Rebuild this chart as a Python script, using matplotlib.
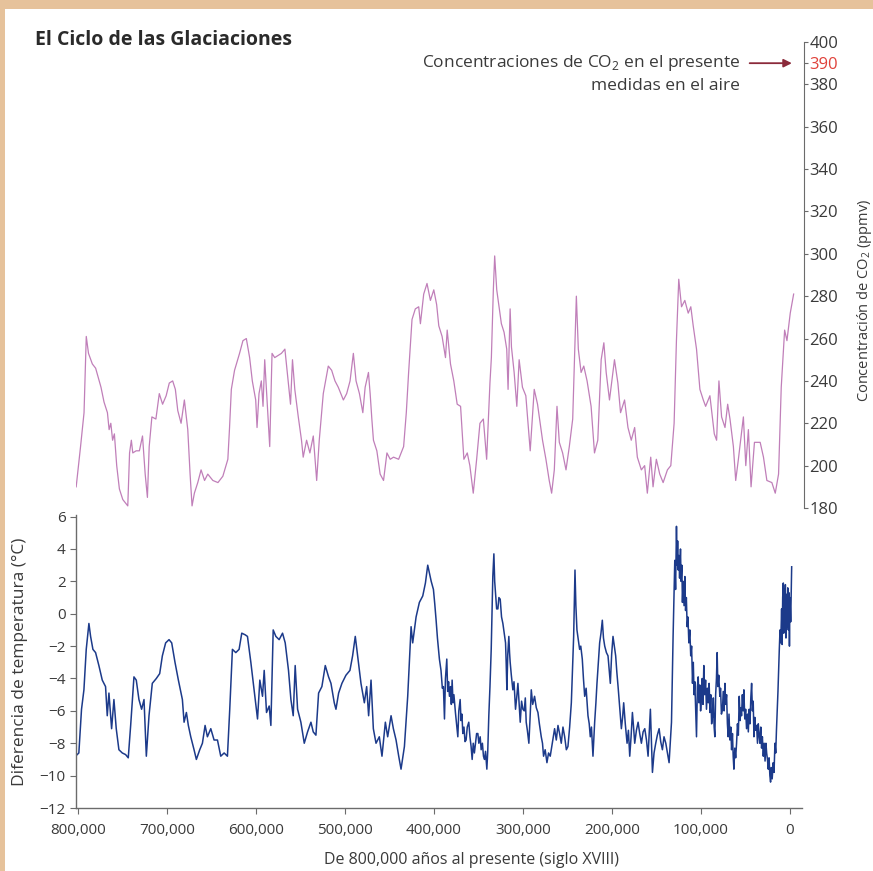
import numpy as np
import matplotlib.pyplot as plt
from matplotlib.patches import Rectangle
from matplotlib.ticker import FuncFormatter

plt.rcParams['font.family'] = ['Open Sans', 'DejaVu Sans']
plt.rcParams['mathtext.fontset'] = 'custom'
plt.rcParams['mathtext.rm'] = 'Open Sans'

# CO2 record: age (thousand years before present) and concentration (ppmv)
co2_age = [801.8, 796.9, 793, 790.5, 788, 783.7, 780, 774, 770.6, 766.8, 764.9, 763, 761, 759,
           756.4, 753.4, 749.6, 744, 742, 740, 738.4, 734.6, 731, 727.5, 724.5, 722, 720, 717,
           712.5, 708.7, 705, 701, 697.5, 693.7, 690.7, 688, 684.3, 680.6, 676.8, 674.2, 672,
           669.4, 665.6, 661.9, 658, 654.4, 648.7, 643, 637.5, 631.9, 630, 628, 624.4, 618.8,
           615, 611.2, 607.5, 604.5, 600.7, 599.2, 597, 594.4, 592.5, 590.6, 588, 585, 582.4,
           579.4, 575.6, 571.9, 568, 564.4, 561.7, 559.5, 556.9, 553, 549.4, 547.5, 543.7, 540,
           536.2, 532.4, 529.5, 525, 519.4, 515.6, 511.9, 508.2, 502.5, 498.8, 495, 491.3, 488.3,
           484.5, 480.7, 478.1, 474.4, 472.5, 470.6, 468.8, 465, 461.3, 457.5, 453.7, 450, 446.3,
           440.6, 435, 432, 429.4, 425.6, 421.9, 418.1, 416.2, 412.5, 408.8, 405, 401.2, 398,
           395.6, 391.9, 388.1, 386.2, 382.5, 378.8, 375, 371.2, 367.5, 363.7, 360.8, 357, 353.2,
           349.5, 345.7, 342, 338.3, 336.7, 334.5, 333, 330.7, 328.1, 325.5, 322.5, 319.5, 318,
           315.7, 314.2, 311.2, 308.2, 305.6, 301.9, 298.1, 293.2, 288.7, 285, 279.4, 275.6,
           271.9, 269.2, 266.2, 263.2, 260.6, 256.9, 253.1, 249.4, 245.6, 243, 241.5, 239.3,
           236.2, 233.2, 229.5, 225, 221.2, 217.5, 213.7, 210.7, 208.1, 204.4, 198.8, 195, 192,
           187.5, 183.7, 180, 176.2, 173.2, 168.7, 165, 162, 158.2, 155.6, 151.9, 148.1, 144.3,
           139.5, 135.7, 132, 129.4, 126.8, 123.7, 120, 116.2, 113.3, 110.6, 106.9, 103.1, 99.3,
           96.7, 91.9, 87, 84.4, 81.8, 78.8, 75, 72, 69.4, 65.6, 63, 60, 54.4, 51.7, 48.8, 45.8,
           42, 35.6, 31.9, 28.1, 22.5, 18.7, 15, 12, 8.2, 5.6, 1.9, -1.9]
co2_ppmv = [190, 209, 225, 261, 253, 248, 246, 237, 230, 225, 217, 220, 212, 215,
            200, 189, 184, 181, 206, 212, 206, 207, 207, 214, 196, 185, 209, 223,
            222, 234, 229, 233, 239, 240, 236, 226, 220, 231, 217, 196, 181,
            187, 192, 198, 193, 196, 193, 192, 195, 203, 218, 236, 245, 253,
            259, 260, 251, 240, 231, 218, 234, 240, 228, 250, 231, 209, 253,
            251, 252, 253, 255, 240, 229, 250, 236, 223, 212, 204, 212, 206,
            214, 193, 212, 234, 247, 245, 240, 237, 231, 234, 240, 253, 240,
            234, 225, 237, 244, 234, 222, 212, 207, 196, 193, 206, 203, 204,
            203, 209, 225, 244, 269, 274, 275, 267, 281, 286, 278, 283, 276,
            266, 261, 251, 264, 248, 240, 229, 228, 203, 206, 200, 187, 203,
            220, 222, 203, 239, 251, 283, 299, 283, 275, 267, 263, 255, 236,
            274, 256, 244, 228, 250, 237, 233, 207, 236, 229, 212, 203,
            193, 187, 198, 228, 211, 206, 198, 209, 222, 259, 280, 255,
            244, 247, 240, 228, 206, 212, 250, 258, 244, 231, 250, 239, 225,
            231, 218, 212, 218, 204, 198, 200, 187, 204, 190, 203, 196, 192,
            198, 200, 220, 259, 288, 275, 278, 272, 275, 266, 255, 236, 231,
            228, 233, 215, 212, 240, 223, 218, 229, 222, 209, 193, 203, 223, 200, 217, 190,
            211, 211, 204, 193, 192, 187, 196, 237, 264, 259, 272, 281]

# temperature difference, 800k-405k: age (thousand years) and anomaly (deg C)
temp_age = [804.4, 798.8, 795.8, 793.1, 790.5, 787.5, 785.6, 783, 780, 776.3, 772.5, 768.8,
            766.9, 765, 762, 759.4, 756.8, 753.8, 750, 746.3, 743.3, 740.6, 736.9, 734.3, 731.3,
            728.3, 725.6, 723, 720, 716.3, 711.8, 708, 705, 701.3, 697.5, 694.5, 690.8, 687,
            682.5, 680.6, 678, 675.8, 673.1, 669.4, 666.8, 663, 660, 657, 654.4, 650.6, 646.9,
            643.1, 639.4, 635.6, 631.9, 629.3, 626.3, 622.5, 618.8, 615.8, 612, 609.4, 605.6,
            601.9, 598.1, 595.5, 592.5, 590.6, 588, 585, 583.1, 580.5, 577.5, 573.8, 570, 567,
            563.3, 560.6, 558, 555.8, 553.1, 549.4, 545.6, 541.9, 538.1, 535.5, 532.5, 529.5,
            525.8, 522, 518.3, 515.6, 511.9, 510, 507, 503.3, 498.8, 494.3, 491.3, 488.3, 485.6,
            481.9, 478.1, 475.5, 473.3, 470.6, 468, 465, 461.3, 458.3, 454.5, 451.9, 448.1,
            445.5, 442.5, 439.5, 436.9, 433.1, 429.4, 425.6, 423.8, 420, 416.3, 412.5, 409.5,
            406.9]
temp_diff = [-8.9, -8.6, -5.9, -4.7, -2.2, -0.6, -1.4, -2.2, -2.4, -3.2, -4.1, -4.5,
             -6.3, -4.9, -7.1, -5.3, -7.1, -8.4, -8.6, -8.7, -8.9, -6.9, -3.9, -4.1, -5.3,
             -5.9, -5.3, -8.8, -6.3, -4.3, -4.0, -3.7, -2.6, -1.8, -1.6, -1.8, -3.0, -4.1,
             -5.3, -6.7, -6.1, -6.9, -7.6, -8.4, -9.0, -8.4, -8.0, -6.9, -7.6, -7.1, -7.8,
             -7.8, -8.8, -8.6, -8.8, -5.9, -2.2, -2.4, -2.2, -1.2, -1.3, -1.4, -3.0,
             -4.7, -6.5, -4.1, -5.1, -3.5, -6.1, -5.7, -6.9, -1.0, -1.4, -1.6, -1.2, -1.8,
             -3.5, -5.3, -6.3, -3.2, -5.9, -6.7, -8.0, -7.3, -6.7, -7.3, -7.5, -4.9,
             -4.5, -3.2, -3.9, -4.3, -5.5, -5.9, -4.9, -4.3, -3.8, -3.5, -2.6, -1.4, -2.6,
             -4.3, -5.5, -4.5, -6.3, -4.1, -7.1, -8.0, -7.6, -8.8, -6.7, -7.6, -6.3,
             -7.1, -7.8, -8.8, -9.6, -8.2, -5.1, -0.8, -1.8, -0.2, 0.7, 1.1, 1.9,
             3.0]

# temperature difference, 405k-present (denser record): (age kyr, deg C)
temp_late = [
    (403, 2.0), (400.5, 1.5), (399, 0.6), (397.5, -0.4), (396, -1.5), (393.8, -2.8),
    (392, -3.5), (390.5, -4.6), (389.3, -4.5), (388.1, -6.5), (387, -4.0), (385.5, -2.8),
    (384.5, -4.8), (383.5, -4.2), (382.5, -5.1), (381.3, -4.5), (380.4, -5.6), (379.5, -4.1),
    (378.5, -5.5), (377.5, -5.0), (375.8, -6.1), (374.5, -6.8), (373.1, -7.6), (372, -6.0),
    (370.5, -5.3), (369.5, -6.6), (368.5, -6.2), (367.5, -7.4), (366.2, -7.0), (365, -7.9),
    (363.8, -7.8), (362.5, -7.0), (360.8, -6.7), (359.5, -7.6), (358.2, -8.2), (357, -9.0),
    (355.8, -8.0), (354.5, -8.6), (353.3, -8.0), (352, -7.4), (350.6, -7.4), (349.5, -8.0),
    (348, -7.6), (346.9, -8.4), (345.5, -8.0), (344.3, -8.8), (343.1, -9.0), (342, -8.5),
    (340.5, -9.6), (339.5, -8.5), (338.3, -6.3), (337, -4.5), (335.6, -2.2), (334.7, 0.0),
    (333.8, 2.3), (332.6, 3.7), (331.7, 2.0), (330.8, 1.3), (329.5, 0.3), (328.1, 0.3),
    (327, 1.0), (325.5, 0.9), (324, -0.2), (322.5, -0.6), (321, -1.2), (319.5, -1.8),
    (318.8, -3.0), (318, -4.7), (317, -2.5), (315.8, -1.4), (315, -2.4), (314.3, -3.0),
    (313, -3.8), (311.3, -4.7), (310, -4.2), (308.3, -5.9), (307, -5.2), (305.6, -4.3),
    (304.3, -5.5), (303, -6.7), (301.5, -5.4), (300, -5.9), (298.5, -6.0), (297.3, -5.2),
    (296.3, -6.7), (295, -7.2), (293.3, -8.0), (292, -6.5), (290.6, -4.7), (289, -5.6),
    (286.9, -5.1), (285, -5.8), (283.1, -6.1), (281.5, -6.8), (279.4, -7.6), (278, -8.0),
    (276.8, -8.8), (275, -8.4), (273, -9.2), (271.2, -8.6), (269.3, -8.8), (267, -8.0),
    (264.4, -7.1), (262.5, -7.8), (260.6, -6.9), (258.8, -7.4), (256.9, -8.0), (255, -7.0),
    (253.1, -7.6), (251.2, -8.4), (249.4, -8.2), (247.5, -7.0), (245.6, -5.5), (244.3, -3.5),
    (243, -1.4), (241.5, 2.7), (240.5, 0.5), (239.3, -1.0), (238, -1.5), (236.3, -2.2),
    (235, -2.0), (233.3, -2.8), (232, -4.0), (230.6, -5.1), (229, -4.6), (226.9, -6.3),
    (225.5, -6.8), (224.3, -7.6), (223, -7.0), (221.3, -8.8), (220.2, -7.5), (219.4, -6.7),
    (218, -5.5), (216.8, -4.3), (215.2, -3.0), (213.8, -1.8), (212.3, -1.2), (210.8, -0.4),
    (209.5, -1.5), (208.1, -2.0), (206.2, -2.4), (204.4, -2.6), (203, -3.5), (201.8, -4.3),
    (200.3, -2.5), (198.8, -1.4), (197.3, -2.0), (195.8, -2.6), (194.5, -3.6), (193.1, -4.5),
    (191.3, -5.8), (189.4, -7.1), (188, -6.4), (186.8, -5.5), (185, -6.8), (183, -8.0),
    (181.5, -7.2), (180, -8.8), (178.5, -7.6), (177, -6.1), (175.7, -7.0), (174.4, -8.0),
    (172.5, -7.2), (170.6, -6.7), (168.8, -7.4), (166.9, -8.0), (165, -7.3), (163.1, -7.1),
    (161.2, -7.8), (159.4, -8.8), (158, -7.2), (156.8, -5.9), (155.6, -8.0), (154.5, -9.8),
    (152.7, -8.6), (150.8, -8.0), (149, -7.5), (147, -7.1), (145.2, -7.9), (143.3, -8.4),
    (141.5, -7.6), (139.5, -8.0), (137.6, -8.6), (135.8, -9.2), (134.5, -8.0), (133.1, -6.7),
    (132.2, -4.0), (131.3, -1.4), (130.3, 1.0), (129.4, 3.3), (128.5, 1.5), (127.5, 5.4),
    (126.8, 3.0), (126.2, 4.5), (125.6, 2.7), (124.8, 3.6), (124, 2.2), (123, 4.0),
    (122.3, 2.0), (121.5, 3.0), (120.8, 0.7), (120, 2.0), (119, 0.5), (118.1, 2.3),
    (117.3, 0.2), (116.4, 1.0), (115.5, -0.8), (114.6, -0.2), (113.6, -1.8), (112.5, -1.0),
    (111.5, -2.6), (110.5, -2.0), (109.5, -4.3), (108.6, -3.0), (107.7, -5.0), (106.9, -4.2),
    (106, -5.9), (105, -7.6), (104, -4.5), (103.1, -3.9), (102.2, -5.5), (101.3, -4.4),
    (100.4, -6.0), (99.4, -5.1), (98.6, -4.0), (97.7, -5.6), (96.8, -3.2), (95.8, -5.0),
    (94.8, -4.1), (93.8, -5.9), (92.8, -4.6), (91.8, -5.5), (90.8, -4.3), (89.9, -6.1),
    (89, -5.0), (88, -6.8), (87, -6.3), (86.1, -5.2), (85.2, -7.0), (84.4, -7.6),
    (83.5, -5.0), (82.6, -4.0), (81.8, -2.4), (81, -4.5), (80, -3.8), (78.8, -5.1),
    (78, -4.6), (77, -6.2), (75.8, -5.9), (75, -4.8), (74, -6.0), (73.1, -4.3),
    (72.2, -5.6), (71.2, -5.0), (70.3, -6.8), (69.4, -7.6), (68.5, -6.2), (67.5, -7.8),
    (66.5, -7.0), (65.6, -8.4), (64.6, -7.4), (63.8, -8.8), (63, -9.6), (62, -8.3),
    (61, -8.9), (60, -8.0), (59, -6.8), (58, -7.5), (57, -5.1), (56, -6.6),
    (55.2, -5.8), (54.4, -6.3), (53.5, -5.0), (52.6, -6.0), (51.8, -4.7), (50.8, -6.5),
    (49.8, -5.9), (48.8, -7.1), (47.8, -6.2), (46.8, -7.3), (45.8, -5.9), (44.9, -6.8),
    (44, -5.2), (43.1, -4.3), (42.2, -6.0), (41.3, -5.4), (40.5, -7.6), (39.5, -6.4),
    (38.5, -7.2), (37.5, -6.9), (36.5, -8.0), (35.6, -6.8), (34.7, -7.5), (33.8, -8.0),
    (32.8, -7.0), (31.9, -8.3), (31, -7.6), (30, -8.8), (29, -8.0), (28, -9.1),
    (27, -8.0), (26.2, -8.6), (25.3, -9.0), (24.4, -9.6), (23.5, -8.9), (22.6, -10.0),
    (21.8, -10.4), (21, -9.5), (20, -10.2), (18.8, -9.2), (17.9, -9.8), (16.9, -8.0),
    (16, -8.6), (15.2, -7.2), (14.3, -5.9), (13.5, -4.8), (12.8, -3.5), (12, -2.2),
    (11.2, -1.0), (10.4, -1.8), (9.4, 0.3), (8.8, -1.9), (8.2, 1.0), (7.5, 1.9),
    (7, -1.2), (6.4, 1.5), (5.8, -0.6), (5.2, 1.8), (4.5, -1.5), (3.8, 1.2),
    (3.2, -0.8), (2.5, 1.6), (1.9, -1.0), (1.2, 1.3), (0.6, -2.0), (0, 1.0),
    (-0.8, -0.5), (-1.9, 2.9),
]

x_ticks = [800000, 700000, 600000, 500000, 400000, 300000, 200000, 100000, 0]
co2_ticks = [180, 200, 220, 240, 260, 280, 300, 320, 340, 360, 380, 390, 400]
temp_ticks = [6, 4, 2, 0, -2, -4, -6, -8, -10, -12]

W, H = 873, 871
text_col = '#3a3a3a'
spine_col = '#6b6b6b'
tan = '#e6c29b'

fig = plt.figure(figsize=(W / 100, H / 100), dpi=100)
fig.patch.set_facecolor('white')
# tan frame strips along the top and left edges
fig.patches.append(Rectangle((0, 1 - 9 / H), 1, 9 / H, transform=fig.transFigure,
                             facecolor=tan, edgecolor='none'))
fig.patches.append(Rectangle((0, 0), 5 / W, 1, transform=fig.transFigure,
                             facecolor=tan, edgecolor='none'))

def px_box(left, top, right, bottom):
    return [left / W, 1 - bottom / H, (right - left) / W, (bottom - top) / H]

xlim = (802000, -13500)

all_age = temp_age + [a for a, _ in temp_late]
all_temp = temp_diff + [t for _, t in temp_late]

# temperature panel (bottom)
ax_t = fig.add_axes(px_box(76, 515, 802, 808))
ax_t.patch.set_alpha(0)
ax_t.plot(np.array(all_age) * 1000, all_temp, color='#1c3a8a', lw=1.1)
ax_t.set_xlim(*xlim)
ax_t.set_ylim(-12, 6.1)
ax_t.set_xticks(x_ticks)
ax_t.xaxis.set_major_formatter(FuncFormatter(lambda v, p: f'{int(v):,}'))
ax_t.set_yticks(temp_ticks)
for s in ['top', 'right']:
    ax_t.spines[s].set_visible(False)
for s in ['left', 'bottom']:
    ax_t.spines[s].set_color(spine_col)
    ax_t.spines[s].set_linewidth(1.0)
ax_t.tick_params(colors=spine_col, labelcolor=text_col, labelsize=11, length=4, width=0.8)
ax_t.tick_params(axis='x', pad=7)
ax_t.set_ylabel('Diferencia de temperatura (°C)', fontsize=12.5, color=text_col)
ax_t.yaxis.set_label_coords(-0.066, 0.5)
ax_t.set_xlabel('De 800,000 años al presente (siglo XVIII)', fontsize=11.5, color=text_col)
ax_t.xaxis.set_label_coords(0.545, -0.15)

# CO2 panel (top)
ax_c = fig.add_axes(px_box(76, 42, 804, 508))
ax_c.patch.set_alpha(0)
ax_c.plot(np.array(co2_age) * 1000, co2_ppmv, color='#c07fb9', lw=0.9)
ax_c.set_xlim(*xlim)
ax_c.set_ylim(180, 400)
for s in ['top', 'left', 'bottom']:
    ax_c.spines[s].set_visible(False)
ax_c.spines['right'].set_color(spine_col)
ax_c.xaxis.set_visible(False)
ax_c.yaxis.tick_right()
ax_c.set_yticks(co2_ticks)
ax_c.tick_params(colors=spine_col, labelcolor=text_col, labelsize=12, length=3, width=0.8, pad=1)
for lab in ax_c.get_yticklabels():
    if lab.get_text() == '390':
        lab.set_color('#e0413a')
ax_c.set_ylabel('Concentración de CO$_2$ (ppmv)', fontsize=10.5, color=text_col)
ax_c.yaxis.set_label_position('right')
ax_c.yaxis.set_label_coords(1.07, 0.446)

ax_c.annotate('', xy=(-3000, 390), xytext=(50500, 390),
              arrowprops=dict(arrowstyle='-|>', color='#8b2a3a', lw=1.3, mutation_scale=12))
ax_c.text(58000, 390, 'Concentraciones de CO$_2$ en el presente', ha='right', va='center',
          fontsize=12.5, color=text_col)
ax_c.text(58000, 379, 'medidas en el aire', ha='right', va='center',
          fontsize=12.5, color=text_col)

fig.text(35 / W, 1 - 40 / H, 'El Ciclo de las Glaciaciones', fontsize=14, fontweight='bold',
         color='#2a2a2a', va='center', ha='left')

fig.savefig('out.png', dpi=100, facecolor=fig.get_facecolor())
